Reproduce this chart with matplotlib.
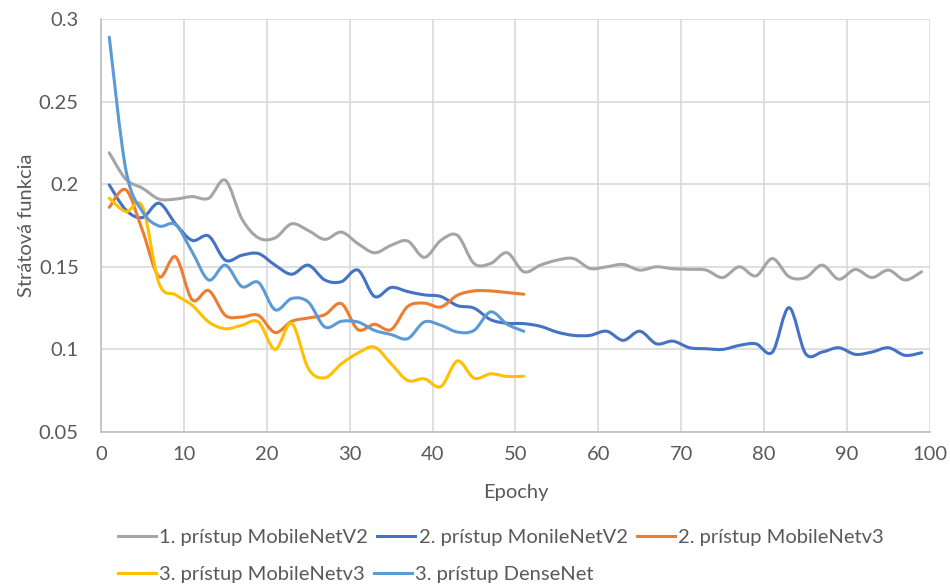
import numpy as np
import matplotlib
matplotlib.use("Agg")
import matplotlib.pyplot as plt
from matplotlib.path import Path
from matplotlib.patches import PathPatch
from matplotlib.lines import Line2D

plt.rcParams['font.family'] = ['Lato', 'DejaVu Sans']

# epochs (every 2nd epoch)
epochs_long = list(range(1, 100, 2))
epochs_short = list(range(1, 52, 2))

v2_1 = [0.219, 0.203, 0.1976, 0.191, 0.191, 0.1925, 0.1915, 0.2024, 0.179, 0.1675,
        0.1675, 0.176, 0.172, 0.1666, 0.171, 0.164, 0.1585, 0.163, 0.1656, 0.1557,
        0.166, 0.169, 0.152, 0.152, 0.1585, 0.147, 0.151, 0.154, 0.155, 0.149,
        0.150, 0.1514, 0.148, 0.150, 0.1488, 0.1485, 0.148, 0.1435, 0.150, 0.1445,
        0.155, 0.144, 0.1435, 0.151, 0.1425, 0.1484, 0.1435, 0.148, 0.142, 0.147]

v2_2 = [0.1996, 0.1844, 0.1798, 0.1885, 0.176, 0.166, 0.1686, 0.154, 0.157, 0.158,
        0.151, 0.1455, 0.151, 0.142, 0.141, 0.148, 0.132, 0.1375, 0.135, 0.133,
        0.132, 0.1265, 0.125, 0.118, 0.1158, 0.1156, 0.114, 0.1105, 0.1085, 0.1085,
        0.111, 0.1055, 0.111, 0.1034, 0.105, 0.101, 0.1004, 0.100, 0.1024, 0.1034,
        0.0984, 0.1253, 0.0974, 0.0984, 0.101, 0.097, 0.0984, 0.101, 0.0964, 0.098]

v3_2 = [0.186, 0.1966, 0.172, 0.144, 0.156, 0.130, 0.1356, 0.1206, 0.1196, 0.1206,
        0.1102, 0.117, 0.119, 0.121, 0.1277, 0.112, 0.1152, 0.112, 0.126, 0.128,
        0.1257, 0.1328, 0.1354, 0.1354, 0.1344, 0.1334]

v3_3 = [0.1915, 0.1834, 0.1864, 0.140, 0.133, 0.1267, 0.1166, 0.1125, 0.1146, 0.1166,
        0.1, 0.1158, 0.0885, 0.0828, 0.0913, 0.0978, 0.1014, 0.0913, 0.0812, 0.0822,
        0.0775, 0.093, 0.0826, 0.0852, 0.0836, 0.0838]

dense_3 = [0.289, 0.2087, 0.1834, 0.1747, 0.1755, 0.159, 0.142, 0.151, 0.138, 0.1405,
           0.124, 0.1308, 0.1287, 0.1136, 0.117, 0.1166, 0.1115, 0.109, 0.1065, 0.1166,
           0.1146, 0.1105, 0.1115, 0.1227, 0.1152, 0.111]

series = [
    ("1. prístup MobileNetV2", epochs_long, v2_1, "#A5A5A5"),
    ("2. prístup MonileNetV2", epochs_long, v2_2, "#4472C4"),
    ("2. prístup MobileNetv3", epochs_short, v3_2, "#ED7D31"),
    ("3. prístup MobileNetv3", epochs_short, v3_3, "#FFC000"),
    ("3. prístup DenseNet", epochs_short, dense_3, "#5B9BD5"),
]

txt = "#595959"
fs = 14.5


def smooth_path(x, y):
    # excel-like smoothed line (bezier through the points)
    p = np.column_stack([x, y]).astype(float)
    n = len(p)
    verts = [p[0]]
    codes = [Path.MOVETO]
    for i in range(n - 1):
        p0 = p[i - 1] if i > 0 else p[i]
        p3 = p[i + 2] if i + 2 < n else p[i + 1]
        c1 = p[i] + (p[i + 1] - p0) / 6
        c2 = p[i + 1] - (p3 - p[i]) / 6
        verts += [c1, c2, p[i + 1]]
        codes += [Path.CURVE4] * 3
    return Path(verts, codes)


fig = plt.figure(figsize=(9.5, 5.88), dpi=100)
ax = fig.add_axes([0.1063, 0.2653, 0.8726, 0.7024])

handles = []
for name, xs, ys, col in series:
    ax.add_patch(PathPatch(smooth_path(xs, ys), fill=False, edgecolor=col,
                           lw=2.2, capstyle='round', joinstyle='round', zorder=3))
    handles.append(Line2D([], [], color=col, lw=2.2, label=name))

ax.set_xlim(0, 100)
ax.set_ylim(0.05, 0.3)
ax.set_xticks(range(0, 101, 10))
ax.set_yticks([0.05, 0.1, 0.15, 0.2, 0.25, 0.3])
ax.set_yticklabels(["0.05", "0.1", "0.15", "0.2", "0.25", "0.3"])
ax.grid(True, color="#D9D9D9", lw=1.2)
ax.set_axisbelow(True)
for s in ["top", "right"]:
    ax.spines[s].set_visible(False)
for s in ["left", "bottom"]:
    ax.spines[s].set_color("#BFBFBF")
    ax.spines[s].set_linewidth(1.2)
ax.tick_params(length=0, labelsize=fs, colors=txt)
ax.tick_params(axis='x', pad=10)
ax.tick_params(axis='y', pad=16)
ax.set_xlabel("Epochy", fontsize=fs, color=txt, labelpad=15)
ax.set_ylabel("Strátová funkcia", fontsize=fs, color=txt, labelpad=3)

leg_kw = dict(frameon=False, fontsize=fs, labelcolor=txt, handlelength=1.9,
              handletextpad=0.15, columnspacing=0.45, borderpad=0, borderaxespad=0)
fig.legend(handles=handles[:3], ncol=3, loc="center left",
           bbox_to_anchor=(118 / 950, 1 - 537 / 588), **leg_kw)
fig.legend(handles=handles[3:], ncol=2, loc="center left",
           bbox_to_anchor=(118 / 950, 1 - 574 / 588), **leg_kw)

fig.savefig("out.png", dpi=100)
